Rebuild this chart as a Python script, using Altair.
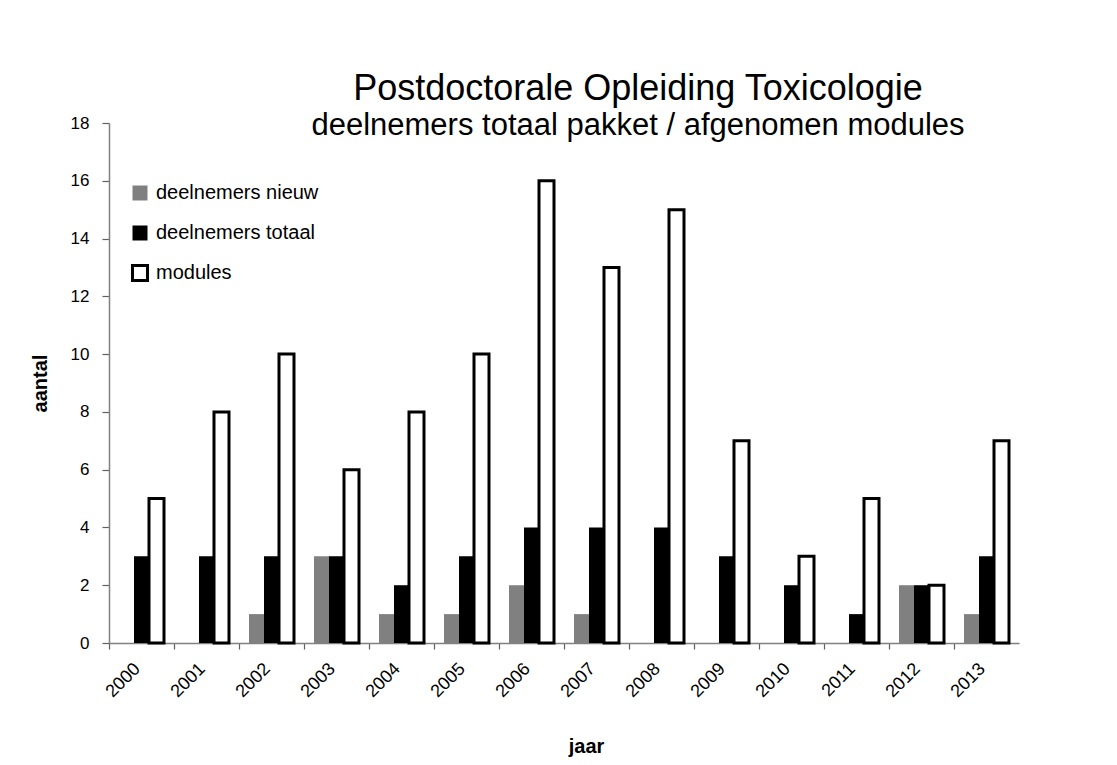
import altair as alt
import pandas as pd

jaren = ["2000", "2001", "2002", "2003", "2004", "2005", "2006",
         "2007", "2008", "2009", "2010", "2011", "2012", "2013"]
series = ["deelnemers nieuw", "deelnemers totaal", "modules"]
nieuw = [0, 0, 1, 3, 1, 1, 2, 1, 0, 0, 0, 0, 2, 1]
totaal = [3, 3, 3, 3, 2, 3, 4, 4, 4, 3, 2, 1, 2, 3]
modules = [5, 8, 10, 6, 8, 10, 16, 13, 15, 7, 3, 5, 2, 7]
y_ticks = [0, 2, 4, 6, 8, 10, 12, 14, 16, 18]

rows = []
for name, vals in zip(series, [nieuw, totaal, modules]):
    for j, v in zip(jaren, vals):
        rows.append({"jaar": j, "serie": name, "aantal": v})
df = pd.DataFrame(rows)

FONT = "Liberation Sans"
W, H = 910, 520

legend_kw = dict(title=None, orient="none", legendX=21, legendY=60,
                 symbolType="square", symbolSize=225, symbolStrokeWidth=3,
                 labelFontSize=20, labelOffset=6, rowPadding=12, padding=0,
                 labelFont=FONT, labelColor="#000000", labelLimit=400)

chart = alt.Chart(df).mark_bar(strokeWidth=3).encode(
    x=alt.X("jaar:N", sort=jaren,
            scale=alt.Scale(paddingInner=0, paddingOuter=0),
            axis=alt.Axis(title="jaar", labelAngle=-45, labelAlign="right",
                          labelBaseline="middle", bandPosition=0,
                          labelOffset=-4, labelPadding=17, labelFontSize=18,
                          tickSize=6, titleFontSize=20, titleFontWeight="bold",
                          titlePadding=36, titleX=477)),
    xOffset=alt.XOffset("serie:N", sort=series,
                        scale=alt.Scale(domain=series, paddingInner=0, paddingOuter=0.667)),
    y=alt.Y("aantal:Q", scale=alt.Scale(domain=[0, 18]),
            axis=alt.Axis(title="aantal", values=y_ticks, tickSize=7,
                          labelPadding=13, labelFontSize=17,
                          titleFontSize=20, titleFontWeight="bold",
                          titlePadding=20, grid=False)),
    fill=alt.Fill("serie:N", sort=series,
                  scale=alt.Scale(domain=series, range=["#808080", "#000000", "#ffffff"]),
                  legend=alt.Legend(**legend_kw)),
    stroke=alt.Stroke("serie:N", sort=series,
                      scale=alt.Scale(domain=series,
                                      range=["transparent", "transparent", "#000000"]),
                      legend=alt.Legend(**legend_kw)),
).properties(
    width=W, height=H,
    title=alt.TitleParams(
        text="Postdoctorale Opleiding Toxicologie",
        subtitle="deelnemers totaal pakket / afgenomen modules",
        fontSize=36, subtitleFontSize=31, font=FONT, subtitleFont=FONT,
        fontWeight="normal", color="#000000", subtitleColor="#000000",
        anchor="middle", dx=74, offset=-28, subtitlePadding=3,
    ),
    autosize=alt.AutoSizeParams(type="none"),
    padding={"left": 101, "top": 115, "right": 90, "bottom": 114},
).configure(
    background="#ffffff"
).configure_view(
    stroke=None
).configure_axis(
    labelFont=FONT, titleFont=FONT, labelColor="#000000",
    titleColor="#000000", domainColor="#808080", domainWidth=1.5,
    tickColor="#606060", tickWidth=1.2,
)

chart.save("out.html", embed_options={"renderer": "svg", "actions": False})
